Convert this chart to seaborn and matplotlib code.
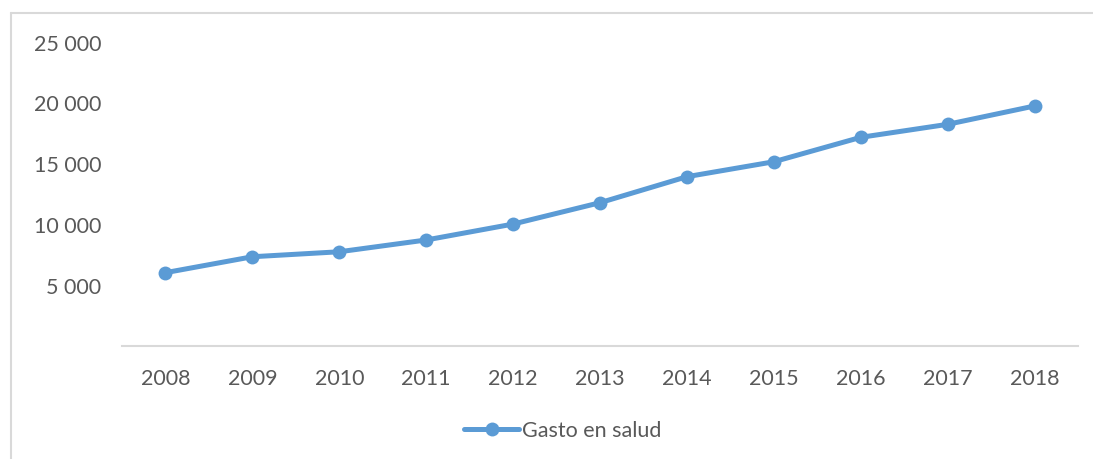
import pandas as pd
import matplotlib.pyplot as plt
import seaborn as sns
from matplotlib.lines import Line2D
from matplotlib.ticker import FuncFormatter

# Data
years = ['2008', '2009', '2010', '2011', '2012', '2013', '2014', '2015', '2016', '2017', '2018']
gasto = [6070, 7380, 7790, 8760, 10070, 11830, 13970, 15200, 17210, 18280, 19790]
y_ticks = [5000, 10000, 15000, 20000, 25000]

df = pd.DataFrame({'Año': years, 'Gasto en salud': gasto})

sns.set_style('white')
plt.rcParams['font.family'] = ['Lato', 'DejaVu Sans']

blue = '#5B9BD5'
text_grey = '#595959'
line_grey = '#D9D9D9'

fig = plt.figure(figsize=(10.93, 4.59), dpi=100)
ax = fig.add_axes([0.1116, 0.2453, 0.8747, 0.6617])

sns.lineplot(data=df, x='Año', y='Gasto en salud', ax=ax, color=blue,
             linewidth=3.6, marker='o', markersize=10, markeredgewidth=0,
             label='Gasto en salud', sort=False)

ax.set_xlim(-0.5, len(years) - 0.5)
ax.set_ylim(0, 25000)
ax.set_yticks(y_ticks)
ax.yaxis.set_major_formatter(FuncFormatter(lambda v, p: f'{v:,.0f}'.replace(',', ' ')))
ax.set_xlabel('')
ax.set_ylabel('')
ax.tick_params(axis='y', length=0, pad=15, labelsize=15.5, labelcolor=text_grey)
ax.tick_params(axis='x', length=0, pad=16, labelsize=15.5, labelcolor=text_grey)

for side in ['top', 'right', 'left']:
    ax.spines[side].set_visible(False)
ax.spines['bottom'].set_color(line_grey)
ax.spines['bottom'].set_linewidth(1.5)

ax.legend_.remove()
handles, labels = ax.get_legend_handles_labels()
fig.legend(handles, labels, loc='center', bbox_to_anchor=(0.515, 0.062),
           frameon=False, fontsize=15.5, handlelength=2.55, handletextpad=0.15,
           labelcolor=text_grey)

# light chart border (only left and top edges fall inside the picture)
fig.add_artist(Line2D([0.01, 0.01], [0, 0.9717], transform=fig.transFigure,
                      color=line_grey, linewidth=1.5))
fig.add_artist(Line2D([0.01, 1], [0.9717, 0.9717], transform=fig.transFigure,
                      color=line_grey, linewidth=1.5))

fig.savefig('out.png', dpi=100)
